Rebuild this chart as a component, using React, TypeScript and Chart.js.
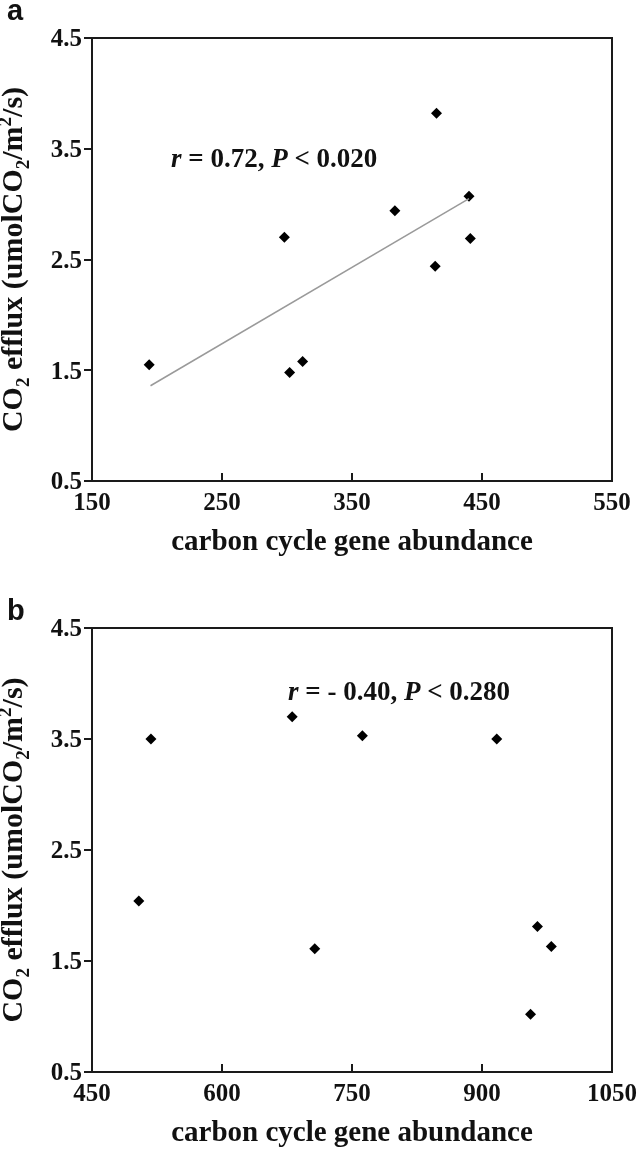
import React, { useEffect, useRef } from 'react';
import { Chart, registerables } from 'chart.js';

Chart.register(...registerables);

// ---------- data ----------
const xTitle = 'carbon cycle gene abundance';
const yTitleParts: [string, string][] = [
  ['CO', ''], ['2', 'sub'], [' efflux (umolCO', ''], ['2', 'sub'], ['/m', ''], ['2', 'sup'], ['/s)', ''],
];
const yTicks = [0.5, 1.5, 2.5, 3.5, 4.5];

// panel a
const labelA = 'a';
const geneA = [194, 302, 312, 298, 415, 440, 383, 441, 414];
const fluxA = [1.55, 1.48, 1.58, 2.7, 3.82, 3.07, 2.94, 2.69, 2.44];
const fitGeneA = [195, 440];
const fitFluxA = [1.36, 3.05];
const xTicksA = [150, 250, 350, 450, 550];
const statA: [string, boolean][] = [['r', true], [' = 0.72, ', false], ['P', true], [' < 0.020', false]];

// panel b
const labelB = 'b';
const geneB = [518, 681, 762, 917, 504, 707, 964, 980, 956];
const fluxB = [3.5, 3.7, 3.53, 3.5, 2.04, 1.61, 1.81, 1.63, 1.02];
const xTicksB = [450, 600, 750, 900, 1050];
const statB: [string, boolean][] = [['r', true], [' = - 0.40, ', false], ['P', true], [' < 0.280', false]];

// ---------- styling ----------
const SERIF = '"Liberation Serif", "Times New Roman", serif';
const SANS = '"Liberation Sans", Arial, sans-serif';
const W = 641;
const H = 575;

type PanelCfg = {
  label: string;
  gene: number[];
  flux: number[];
  fitGene?: number[];
  fitFlux?: number[];
  xTicks: number[];
  stat: [string, boolean][];
  top: number;
  bottom: number;
  statX: number;
  statY: number;
  labelY: number;
};

const panels: PanelCfg[] = [
  {
    label: labelA, gene: geneA, flux: fluxA, fitGene: fitGeneA, fitFlux: fitFluxA,
    xTicks: xTicksA, stat: statA, top: 38, bottom: 481, statX: 171, statY: 167, labelY: 20,
  },
  {
    label: labelB, gene: geneB, flux: fluxB,
    xTicks: xTicksB, stat: statB, top: 53, bottom: 497, statX: 288, statY: 125, labelY: 45,
  },
];

function PanelChart({ cfg }: { cfg: PanelCfg }) {
  const ref = useRef<HTMLCanvasElement | null>(null);
  useEffect(() => {
    const canvas = ref.current;
    if (!canvas) return;

    const decor = {
      id: 'decor',
      afterDraw(chart: any) {
        const ctx = chart.ctx as CanvasRenderingContext2D;
        const a = chart.chartArea;
        const xs = chart.scales.x;
        const ys = chart.scales.y;
        ctx.save();
        ctx.strokeStyle = '#1a1a1a';
        ctx.lineWidth = 2;
        ctx.strokeRect(a.left, a.top, a.right - a.left, a.bottom - a.top);
        cfg.xTicks.forEach((v) => {
          const px = Math.round(xs.getPixelForValue(v));
          ctx.beginPath();
          ctx.moveTo(px, a.bottom);
          ctx.lineTo(px, a.bottom - 8);
          ctx.stroke();
        });
        yTicks.forEach((v) => {
          const py = Math.round(ys.getPixelForValue(v));
          ctx.beginPath();
          ctx.moveTo(a.left - 8, py);
          ctx.lineTo(a.left, py);
          ctx.stroke();
        });

        ctx.fillStyle = '#111';
        ctx.textBaseline = 'alphabetic';

        // x title
        ctx.font = `bold 29px ${SERIF}`;
        ctx.textAlign = 'center';
        ctx.fillText(xTitle, (a.left + a.right) / 2, a.bottom + 69);

        // y title
        ctx.textAlign = 'left';
        const size = 30;
        const fontFor = (k: string) => `bold ${k ? Math.round(size * 0.62) : size}px ${SERIF}`;
        let total = 0;
        yTitleParts.forEach(([t, k]) => {
          ctx.font = fontFor(k);
          total += ctx.measureText(t).width;
        });
        ctx.save();
        ctx.translate(22, (a.top + a.bottom) / 2);
        ctx.rotate(-Math.PI / 2);
        let cx = -total / 2;
        yTitleParts.forEach(([t, k]) => {
          ctx.font = fontFor(k);
          const dy = k === 'sub' ? size * 0.22 : k === 'sup' ? -size * 0.36 : 0;
          ctx.fillText(t, cx, dy);
          cx += ctx.measureText(t).width;
        });
        ctx.restore();

        // statistics annotation
        let sx = cfg.statX;
        cfg.stat.forEach(([t, it]) => {
          ctx.font = `${it ? 'italic ' : ''}bold 27px ${SERIF}`;
          ctx.fillText(t, sx, cfg.statY);
          sx += ctx.measureText(t).width;
        });

        // panel label
        ctx.font = `bold 29px ${SANS}`;
        ctx.fillText(cfg.label, 7, cfg.labelY);
        ctx.restore();
      },
    };

    const datasets: any[] = [
      {
        label: 'points',
        data: cfg.gene.map((g, i) => ({ x: g, y: cfg.flux[i] })),
        pointStyle: 'rectRot',
        pointRadius: 5.5,
        pointBackgroundColor: '#000',
        pointBorderWidth: 0,
        showLine: false,
      },
    ];
    if (cfg.fitGene && cfg.fitFlux) {
      datasets.unshift({
        label: 'fit',
        data: cfg.fitGene.map((g, i) => ({ x: g, y: cfg.fitFlux![i] })),
        showLine: true,
        borderColor: '#9a9a9a',
        borderWidth: 1.5,
        pointRadius: 0,
      });
    }

    const xMin = cfg.xTicks[0];
    const xMax = cfg.xTicks[cfg.xTicks.length - 1];
    const chart = new Chart(canvas, {
      type: 'scatter',
      data: { datasets },
      options: {
        responsive: false,
        animation: false,
        devicePixelRatio: 1,
        layout: { padding: { top: cfg.top, right: W - 612, left: 0, bottom: 0 } },
        plugins: { legend: { display: false }, tooltip: { enabled: false } },
        scales: {
          x: {
            type: 'linear',
            min: xMin,
            max: xMax,
            grid: { display: false, drawTicks: false },
            border: { display: false },
            ticks: {
              stepSize: cfg.xTicks[1] - cfg.xTicks[0],
              autoSkip: false,
              maxRotation: 0,
              padding: 8,
              color: '#111',
              font: { family: SERIF, size: 25, weight: 'bold' },
              callback: (v: any) => String(v),
            },
            afterFit: (s: any) => {
              s.height = H - cfg.bottom;
              s.paddingLeft = 0;
              s.paddingRight = 0;
            },
          },
          y: {
            type: 'linear',
            min: yTicks[0],
            max: yTicks[yTicks.length - 1],
            grid: { display: false, drawTicks: false },
            border: { display: false },
            ticks: {
              stepSize: 1,
              autoSkip: false,
              padding: 10,
              labelOffset: 2,
              color: '#111',
              font: { family: SERIF, size: 25, weight: 'bold' },
              callback: (v: any) => Number(v).toFixed(1),
            },
            afterFit: (s: any) => {
              s.width = 92;
              s.paddingTop = 0;
              s.paddingBottom = 0;
            },
          },
        },
      } as any,
      plugins: [decor],
    });
    return () => chart.destroy();
  }, [cfg]);
  return <canvas ref={ref} width={W} height={H} style={{ display: 'block', width: W, height: H }} />;
}

export default function App() {
  return (
    <div style={{ position: 'absolute', left: 0, top: 0, width: W, height: 2 * H, background: '#fff' }}>
      {panels.map((p) => (
        <PanelChart key={p.label} cfg={p} />
      ))}
    </div>
  );
}
